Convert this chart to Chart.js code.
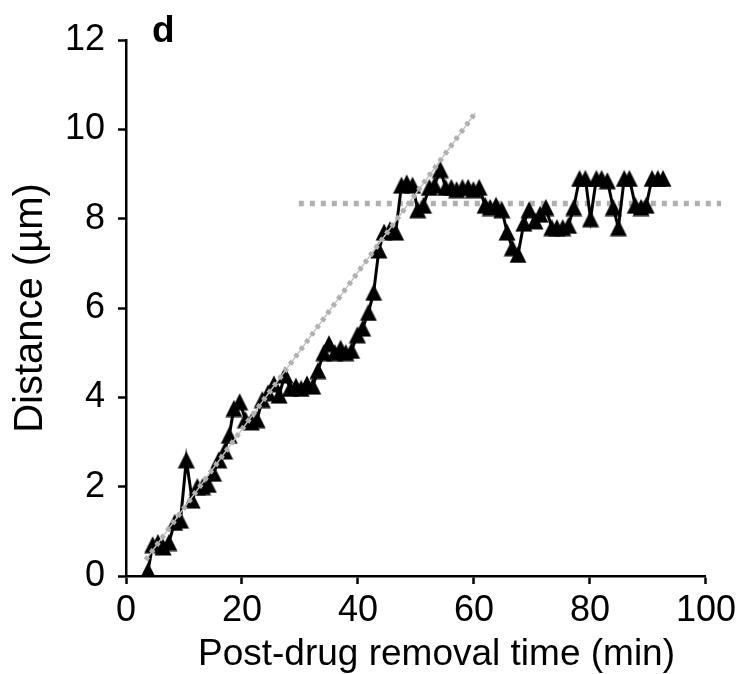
<!DOCTYPE html>
<html lang="en">
  <head>
    <meta charset="UTF-8" />
    <title>Distance vs post-drug removal time</title>
    <script src="https://cdn.jsdelivr.net/npm/chart.js@4.4.1/dist/chart.umd.min.js"></script>
    <style>
      body {
        margin: 0;
        background: #fff;
      }
    </style>
  </head>
  <body>
    <canvas id="distChart" width="741" height="674"></canvas>
    <script>
      // measured track (min, um)
      const times = [
        3.8, 4.6, 5.5, 6.4, 7.4, 8.4, 9.4, 10.4, 11.4, 12.3, 13.2, 14.2, 15.1,
        16.0, 17.0, 17.8, 18.6, 19.6, 20.6, 21.6, 22.6, 23.5, 24.5, 25.5, 26.4,
        27.4, 28.3, 29.3, 30.2, 31.2, 32.2, 33.1, 34.1, 35.0, 36.0, 37.0, 37.9,
        38.9, 39.9, 40.8, 41.8, 42.7, 43.6, 44.5, 45.5, 46.5, 47.5, 48.4, 49.4,
        50.3, 51.3, 52.3, 53.2, 54.2, 55.1, 56.1, 57.0, 58.0, 59.0, 59.9, 60.9,
        61.9, 62.8, 63.8, 64.8, 65.7, 66.6, 67.6, 68.6, 69.5, 70.5, 71.4, 72.4,
        73.4, 74.3, 75.3, 76.3, 77.2, 78.2, 79.2, 80.1, 81.1, 82.0, 83.0, 84.0,
        84.9, 85.9, 86.8, 87.8, 88.8, 89.7, 90.7, 91.7, 92.6
      ];
      const distances = [
        0.12, 0.7, 0.75, 0.65, 0.75, 1.2, 1.25, 2.6, 1.7, 2.0, 2.0, 2.05, 2.3,
        2.6, 2.8, 3.15, 3.75, 3.9, 3.5, 3.45, 3.5, 3.95, 4.1, 4.3, 4.05, 4.5,
        4.2, 4.25, 4.2, 4.3, 4.25, 4.6, 5.0, 5.2, 5.0, 5.1, 5.0, 5.05, 5.4,
        5.55, 5.9, 6.35, 7.3, 7.7, 7.75, 7.7, 8.75, 8.8, 8.75, 8.2, 8.3, 8.7,
        8.75, 9.1, 8.7, 8.7, 8.65, 8.7, 8.7, 8.65, 8.7, 8.3, 8.25, 8.3, 8.2,
        7.7, 7.35, 7.2, 7.9, 8.2, 7.95, 8.1, 8.25, 7.8, 7.8, 7.8, 7.85, 8.25,
        8.9, 8.9, 8.0, 8.9, 8.9, 8.85, 8.25, 7.8, 8.9, 8.9, 8.3, 8.25, 8.3, 8.9,
        8.9, 8.9
      ];

      // linear fit over the rising phase
      const fitX = [3.4, 60.2];
      const fitY = [0.36, 10.36];

      // plateau level
      const plateauX = [29.8, 102.6];
      const plateauY = [8.34, 8.34];

      const xTicks = [0, 20, 40, 60, 80, 100];
      const yTicks = [0, 2, 4, 6, 8, 10, 12];

      const xTitle = "Post-drug removal time (min)";

      const fontFamily = "'Liberation Sans', Arial, Helvetica, sans-serif";
      const grey = "#b0b0b0";

      function pairs(xs, ys) {
        return xs.map((x, i) => ({ x: x, y: ys[i] }));
      }

      // excel-like triangle marker (as wide as it is tall)
      const tri = document.createElement("canvas");
      tri.width = 18;
      tri.height = 18;
      const tctx = tri.getContext("2d");
      tctx.fillStyle = "#000";
      tctx.beginPath();
      tctx.moveTo(9, 0.5);
      tctx.lineTo(17.5, 17.5);
      tctx.lineTo(0.5, 17.5);
      tctx.closePath();
      tctx.fill();

      // panel letter + x title (sits a bit right of the axis centre)
      const extraText = {
        id: "extraText",
        afterDraw(chart) {
          const ctx = chart.ctx;
          ctx.save();
          ctx.fillStyle = "#000";
          ctx.textAlign = "left";
          ctx.textBaseline = "alphabetic";
          ctx.font = "bold 37px " + fontFamily;
          ctx.fillText("d", 152, 42);
          ctx.font = "37px " + fontFamily;
          ctx.fillText(xTitle, 198, 665);
          ctx.restore();
        }
      };

      new Chart(document.getElementById("distChart"), {
        type: "scatter",
        data: {
          datasets: [
            {
              data: pairs(plateauX, plateauY),
              showLine: true,
              borderColor: grey,
              borderWidth: 5.5,
              borderDash: [5, 6],
              pointRadius: 0,
              clip: false,
              order: 3
            },
            {
              data: pairs(times, distances),
              showLine: true,
              borderColor: "#000",
              borderWidth: 3,
              pointStyle: tri,
              pointRadius: 9,
              pointHoverRadius: 9,
              order: 2
            },
            {
              data: pairs(fitX, fitY),
              showLine: true,
              borderColor: "#c4c4c4",
              borderWidth: 1.5,
              pointRadius: 0,
              clip: false,
              order: 1
            },
            {
              data: pairs(fitX, fitY),
              showLine: true,
              borderColor: grey,
              borderWidth: 5,
              borderDash: [4, 5],
              pointRadius: 0,
              clip: false,
              order: 0
            }
          ]
        },
        options: {
          responsive: false,
          animation: false,
          layout: {
            padding: { top: 40, right: 33, left: 0, bottom: 0 }
          },
          plugins: {
            legend: { display: false },
            tooltip: { enabled: false }
          },
          scales: {
            x: {
              type: "linear",
              min: 0,
              max: 100,
              afterFit(scale) {
                scale.height = 98;
              },
              afterBuildTicks(scale) {
                scale.ticks = xTicks.map(v => ({ value: v }));
              },
              border: { color: "#000", width: 2.5 },
              grid: {
                drawOnChartArea: false,
                drawTicks: true,
                tickLength: 8,
                tickColor: "#000",
                tickWidth: 2.5
              },
              ticks: {
                color: "#000",
                padding: 5,
                font: { family: fontFamily, size: 36 }
              },
              title: { display: false }
            },
            y: {
              type: "linear",
              min: 0,
              max: 12,
              afterFit(scale) {
                scale.width = 126;
              },
              afterBuildTicks(scale) {
                scale.ticks = yTicks.map(v => ({ value: v }));
              },
              border: { color: "#000", width: 2.5 },
              grid: {
                drawOnChartArea: false,
                drawTicks: true,
                tickLength: 8,
                tickColor: "#000",
                tickWidth: 2.5
              },
              ticks: {
                color: "#000",
                padding: 13,
                font: { family: fontFamily, size: 36 }
              },
              title: {
                display: true,
                text: "Distance (µm)",
                color: "#000",
                padding: { top: 11, bottom: 0 },
                font: { family: fontFamily, size: 40, lineHeight: 1 }
              }
            }
          }
        },
        plugins: [extraText]
      });
    </script>
  </body>
</html>
